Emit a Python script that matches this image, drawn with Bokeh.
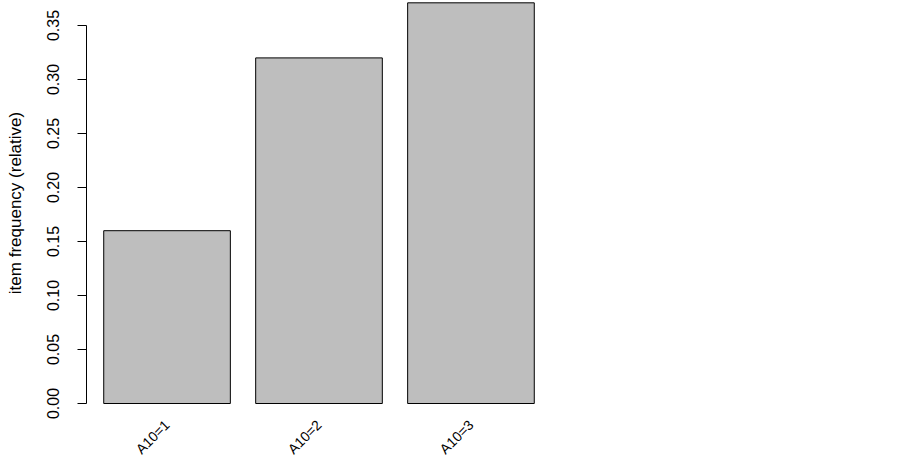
import math
from bokeh.plotting import figure
from bokeh.models import Range1d, FixedTicker, ColumnDataSource, CustomJSTickFormatter
from bokeh.embed import file_html
from bokeh.resources import INLINE

# data
items = ["A10=1", "A10=2", "A10=3"]
freq = [0.160, 0.320, 0.371]
y_ticks = [0.00, 0.05, 0.10, 0.15, 0.20, 0.25, 0.30, 0.35]

# R barplot geometry: width 1, space 0.2
bar_w = 1.0
space = 0.2
left_edges = [space + i * (bar_w + space) for i in range(len(items))]
centers = [l + bar_w / 2 for l in left_edges]
x_lo, x_hi = left_edges[0], left_edges[-1] + bar_w
pad = 0.04 * (x_hi - x_lo)

fig_w, fig_h = 887, 460
frame_left = 86
frame_w = 465
frame_h = 405
zero_px = 403          # pixel row (from top of figure) of y = 0
top_tick_px = 25       # pixel row of the highest tick
scale = (zero_px - top_tick_px) / y_ticks[-1]
y_top = zero_px / scale
y_bottom = -(frame_h - zero_px) / scale

p = figure(width=fig_w, height=fig_h, output_backend="svg", toolbar_location=None,
           x_range=Range1d(x_lo - pad, x_hi + pad),
           y_range=Range1d(y_bottom, y_top),
           frame_width=frame_w, frame_height=frame_h,
           min_border_left=frame_left, min_border_right=fig_w - frame_left - frame_w,
           min_border_top=0, min_border_bottom=fig_h - frame_h)
p.outline_line_color = None
p.grid.visible = False
p.background_fill_color = "white"
p.border_fill_color = "white"

src = ColumnDataSource(dict(x=centers, top=freq))
p.vbar(x="x", top="top", bottom=0, width=bar_w, source=src,
       fill_color="#BEBEBE", line_color="black", line_width=1)

# category names on the x axis, rotated 45 degrees
xa = p.xaxis[0]
xa.ticker = FixedTicker(ticks=centers)
xa.formatter = CustomJSTickFormatter(args=dict(labels=items), code="return labels[index];")
xa.major_label_orientation = math.pi / 4
xa.major_label_text_font = "Liberation Sans"
xa.major_label_text_font_size = "14px"
xa.major_label_text_color = "black"
xa.major_label_standoff = 17
xa.axis_line_color = None
xa.major_tick_line_color = None
xa.minor_tick_line_color = None
xa.major_tick_out = 0
xa.major_tick_in = 0

ax = p.yaxis[0]
ax.ticker = FixedTicker(ticks=y_ticks)
ax.bounds = (y_ticks[0], y_ticks[-1])
ax.formatter = CustomJSTickFormatter(code="return tick.toFixed(2);")
ax.major_label_orientation = "vertical"
ax.axis_label = "item frequency (relative)"
ax.axis_label_text_font = "Liberation Sans"
ax.axis_label_text_font_style = "normal"
ax.axis_label_text_font_size = "17px"
ax.axis_label_text_color = "black"
ax.axis_label_standoff = 19
ax.major_label_text_font = "Liberation Sans"
ax.major_label_text_font_size = "16px"
ax.major_label_text_color = "black"
ax.major_label_standoff = 19
ax.major_tick_out = 9
ax.major_tick_in = 0
ax.minor_tick_out = 0
ax.minor_tick_in = 0
ax.axis_line_color = "black"
ax.major_tick_line_color = "black"

open("out.html", "w").write(file_html(p, INLINE))
